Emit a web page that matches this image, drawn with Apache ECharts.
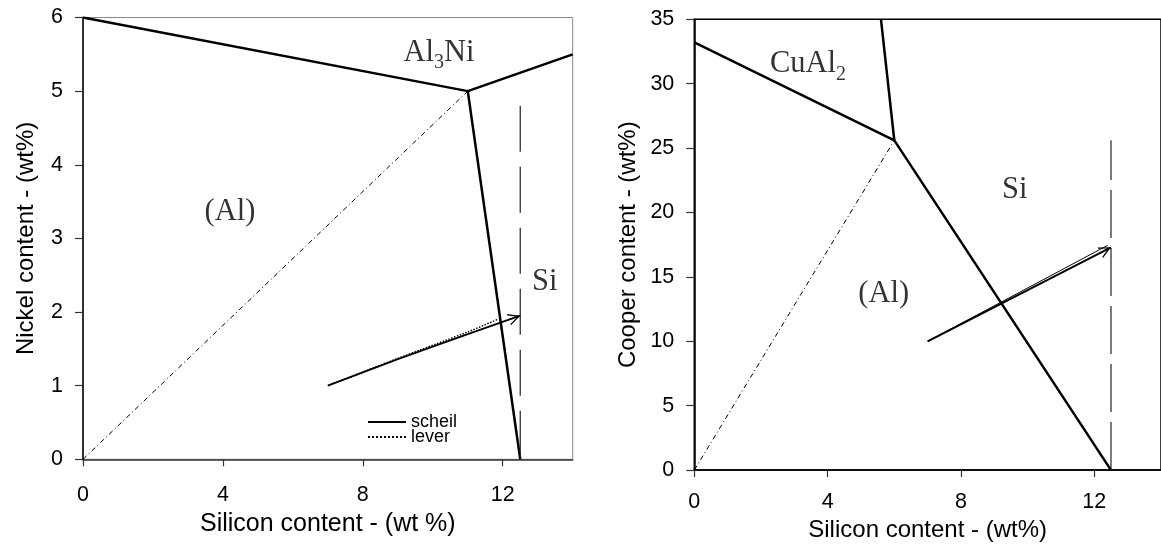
<!DOCTYPE html>
<html><head><meta charset="utf-8">
<script src="https://cdn.jsdelivr.net/npm/echarts@6/dist/echarts.min.js"></script>
<style>html,body{margin:0;padding:0;background:#fff;}#c{width:1161px;height:547px;}</style>
</head><body><div id="c"></div>
<script>
// ---------- Left panel: Al-Si-Ni ----------
const niXTicks = [0, 4, 8, 12];
const niBoundaryUpper = [[0, 6], [11, 5], [14, 5.5]];
const niBoundaryLower = [[11, 5], [12.5, 0]];
const niDiagonal = [[0, 0], [11, 5]];
const niSiLimit = [[12.5, 4.8], [12.5, 0]];
const niScheil = [[7, 1], [9, 1.36], [11, 1.70], [12.5, 1.95]];
const niLever = [[7, 1], [9, 1.37], [11, 1.73], [11.85, 1.9]];
const niLabelNames = ['Al3Ni', '(Al)', 'Si'];
const niLabelAt = [[10.18, 5.49], [4.2, 3.33], [13.2, 2.37]];

// ---------- Right panel: Al-Si-Cu ----------
const cuXTicks = [0, 4, 8, 12];
const cuBoundaryUpper = [[0, 33.2], [6, 25.6], [12.5, 0]];
const cuBoundaryTop = [[5.6, 35], [6, 25.6]];
const cuDiagonal = [[0, 0], [6, 25.6]];
const cuSiLimit = [[12.5, 0], [12.5, 25.6]];
const cuScheil = [[7, 10], [12.5, 17.3]];
const cuLever = [[7, 10], [12.4, 17.45]];
const cuLabelNames = ['CuAl2', 'Si', '(Al)'];
const cuLabelAt = [[3.41, 31.3], [9.61, 21.55], [5.68, 13.5]];

const SANS = "'Liberation Sans', Arial, Helvetica, sans-serif";
const SERIF = "'Liberation Serif', 'Times New Roman', serif";
const CHEVRON = 'path://M0,0 L10,5 L0,10 L0,8.8 L7.6,5 L0,1.2 Z';
const ARROW_SIZE = 12;

function seg(id, name, data, gi, style, z, smooth) {
  return { id: id, type: 'line', name: name, data: data.slice(), xAxisIndex: gi, yAxisIndex: gi,
    symbol: 'none', silent: true, z: z || 3, smooth: smooth || false,
    itemStyle: { color: '#000' },
    lineStyle: Object.assign({ color: '#000' }, style) };
}
function richName(s) {
  return s.split(/(\d+)/).filter(t => t.length).map(t => /^\d+$/.test(t) ? '{s|' + t + '}' : '{m|' + t + '}').join('');
}
function labelSeries(names, at, gi) {
  return {
    type: 'scatter', xAxisIndex: gi, yAxisIndex: gi, silent: true, z: 5,
    symbolSize: 1, itemStyle: { color: 'rgba(0,0,0,0)' },
    data: names.map((n, i) => ({ name: n, value: at[i] })),
    label: {
      show: true, position: 'inside', color: '#000',
      formatter: p => richName(p.name),
      rich: {
        m: { fontFamily: SERIF, fontSize: 30.5, lineHeight: 36, verticalAlign: 'top', color: '#000' },
        s: { fontFamily: SERIF, fontSize: 20, lineHeight: 14, verticalAlign: 'bottom', color: '#000' }
      }
    }
  };
}
function xAxisCfg(gi, max, ticks, name, nameGap, margin, lineColor, nameSize) {
  return {
    type: 'value', gridIndex: gi, min: 0, max: max, interval: 4,
    name: name, nameLocation: 'middle', nameGap: nameGap,
    nameTextStyle: { fontFamily: SANS, fontSize: nameSize, color: '#000' },
    axisLine: { show: true, onZero: false, lineStyle: { color: lineColor, width: 1.5 } },
    axisTick: { show: true, inside: false, length: 7, customValues: ticks, lineStyle: { color: '#333', width: 1.2 } },
    axisLabel: { customValues: ticks, margin: margin, fontFamily: SANS, fontSize: 21.5, color: '#000' },
    splitLine: { show: false }
  };
}
function yAxisCfg(gi, max, interval, name, nameGap) {
  return {
    type: 'value', gridIndex: gi, min: 0, max: max, interval: interval,
    name: name, nameLocation: 'middle', nameGap: nameGap,
    nameTextStyle: { fontFamily: SANS, fontSize: 24, color: '#000' },
    axisLine: { show: true, onZero: false, lineStyle: { color: '#000', width: 1.5 } },
    axisTick: { show: true, inside: false, length: 8, lineStyle: { color: '#333', width: 1.2 } },
    axisLabel: { margin: 20, fontFamily: SANS, fontSize: 21.5, color: '#000' },
    splitLine: { show: false }
  };
}

const chart = echarts.init(document.getElementById('c'), null, { renderer: 'canvas' });
const arrowSeries = [
  { id: 'scheil', data: niScheil, gi: 0 },
  { id: 'scheil2', data: cuScheil, gi: 1 }
];
const series = [
  seg('bndU', 'bndU', niBoundaryUpper, 0, { width: 2.5 }),
  seg('bndL', 'bndL', niBoundaryLower, 0, { width: 2.5 }),
  seg('diag', 'diag', niDiagonal, 0, { width: 1, type: [5, 3, 1, 3] }),
  seg('silim', 'silim', niSiLimit, 0, { width: 1.2, type: [46, 15], color: '#222' }),
  seg('scheil', 'scheil', niScheil, 0, { width: 1.8 }, 4, 0.3),
  seg('lever', 'lever', niLever, 0, { width: 1.5, type: 'dotted' }, 4, 0.3),
  labelSeries(niLabelNames, niLabelAt, 0),

  seg('bndU2', 'bndU2', cuBoundaryUpper, 1, { width: 2.5 }),
  seg('bndT2', 'bndT2', cuBoundaryTop, 1, { width: 2.5 }),
  seg('diag2', 'diag2', cuDiagonal, 1, { width: 1, type: [5, 3, 1, 3] }),
  seg('silim2', 'silim2', cuSiLimit, 1, { width: 1.2, type: [48, 10], color: '#222' }),
  seg('scheil2', 'scheil2', cuScheil, 1, { width: 2 }, 4),
  seg('lever2', 'lever2', cuLever, 1, { width: 1 }, 4),
  labelSeries(cuLabelNames, cuLabelAt, 1)
];

chart.setOption({
  animation: false,
  backgroundColor: '#fff',
  grid: [
    { left: 83, top: 17.5, right: 588.3, bottom: 87.7, show: true, borderColor: '#888', borderWidth: 1, backgroundColor: 'transparent' },
    { left: 694.3, top: 19.3, right: -7.9, bottom: 75.3, show: true, borderColor: '#000', borderWidth: 1.5, backgroundColor: 'transparent' }
  ],
  xAxis: [
    xAxisCfg(0, 14, niXTicks, 'Silicon content - (wt %)', 51, 25, '#333', 25),
    xAxisCfg(1, 14, cuXTicks, 'Silicon content - (wt%)', 37, 21, '#000', 24)
  ],
  yAxis: [
    yAxisCfg(0, 6, 1, 'Nickel content - (wt%)', 45),
    yAxisCfg(1, 35, 5, 'Cooper content - (wt%)', 54)
  ],
  legend: {
    data: ['scheil', 'lever'], orient: 'vertical', left: 367, top: 413, padding: 0,
    itemWidth: 38, itemHeight: 14, itemGap: -3, selectedMode: false,
    itemStyle: { opacity: 0 },
    textStyle: { fontFamily: SANS, fontSize: 18, lineHeight: 16, color: '#000' }
  },
  series: series
});

// Open arrowheads at the end of the solidification paths, oriented along the last segment
const updates = arrowSeries.map(a => {
  const n = a.data.length;
  const p1 = chart.convertToPixel({ gridIndex: a.gi }, a.data[n - 2]);
  const p2 = chart.convertToPixel({ gridIndex: a.gi }, a.data[n - 1]);
  const phi = Math.atan2(-(p2[1] - p1[1]), p2[0] - p1[0]);
  const h = ARROW_SIZE / 2;
  const d = a.data.slice(0, n - 1).concat([{
    value: a.data[n - 1], symbol: CHEVRON, symbolSize: ARROW_SIZE,
    symbolRotate: phi * 180 / Math.PI,
    symbolOffset: [-h * Math.cos(phi), h * Math.sin(phi)],
    itemStyle: { color: '#000', opacity: 1 }
  }]);
  return { id: a.id, data: d };
});
chart.setOption({ series: updates });
</script></body></html>
